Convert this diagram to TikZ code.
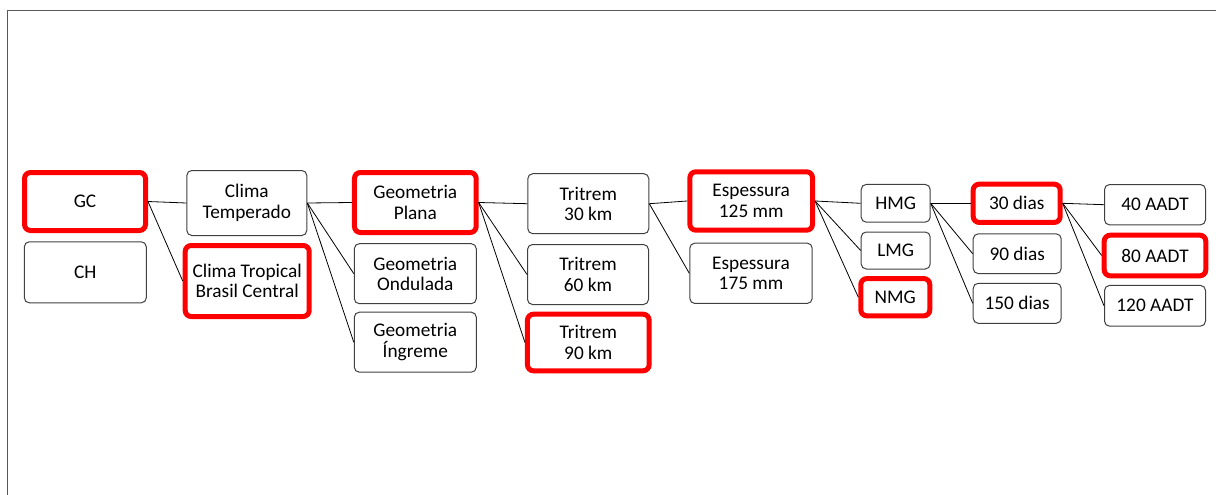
\documentclass[tikz,border=0pt]{standalone}
\usepackage{fontspec}
\setmainfont{Carlito}
\begin{document}
\begin{tikzpicture}[x=1pt,y=-1pt,
  box/.style={draw=black!75, line width=1pt, rounded corners=5pt, fill=white,
    inner sep=0pt, align=center, font=\fontsize{19.3}{20.5}\selectfont},
  sel/.style={box, draw=red, line width=5pt, rounded corners=6pt},
  link/.style={draw=black, line width=0.8pt},
  frame/.style={draw=black!65, line width=1.4pt}]
\useasboundingbox (0,0) rectangle (1216,495);
\coordinate (ftl) at (7.5,10.5);
\coordinate (ftr) at (1216,10.5);
\coordinate (fbl) at (7.5,495);
\draw[frame] (fbl) -- (ftl) -- (ftr);

% column 1
\node[sel, minimum width=121pt, minimum height=58pt] (gc) at (85,201.5) {GC};
\node[box, minimum width=122pt, minimum height=61pt] (ch) at (85.3,272.3) {CH};
% column 2
\node[box, minimum width=120pt, minimum height=65pt] (ct) at (246.8,203) {Clima\\Temperado};
\node[sel, minimum width=124pt, minimum height=71pt] (ctb) at (247.2,281) {Clima Tropical\\Brasil Central};
% column 3
\node[sel, minimum width=121.7pt, minimum height=60pt] (gp) at (415.3,202.5) {Geometria\\Plana};
\node[box, minimum width=122pt, minimum height=60pt] (go) at (415.3,273.7) {Geometria\\Ondulada};
\node[box, minimum width=122pt, minimum height=60pt] (gi) at (415.3,342.2) {Geometria\\Íngreme};
% column 4
\node[box, minimum width=121pt, minimum height=60pt] (t30) at (588.3,203.7) {Tritrem\\30 km};
\node[box, minimum width=121pt, minimum height=60pt] (t60) at (588,274.5) {Tritrem\\60 km};
\node[sel, minimum width=121.7pt, minimum height=56.6pt] (t90) at (588.3,342.5) {Tritrem\\90 km};
% column 5
\node[sel, minimum width=122.7pt, minimum height=58.4pt] (e125) at (751.2,201) {Espessura\\125 mm};
\node[box, minimum width=122.4pt, minimum height=60.3pt] (e175) at (751,273.3) {Espessura\\175 mm};
% column 6
\node[box, minimum width=69pt, minimum height=37.7pt] (hmg) at (895.7,203.3) {HMG};
\node[box, minimum width=69pt, minimum height=37pt] (lmg) at (895.7,250.5) {LMG};
\node[sel, minimum width=69pt, minimum height=37.3pt] (nmg) at (895.3,297.2) {NMG};
% column 7
\node[sel, minimum width=87pt, minimum height=38.3pt] (d30) at (1016.7,203.3) {30 dias};
\node[box, minimum width=88pt, minimum height=39.7pt] (d90) at (1017.2,253.7) {90 dias};
\node[box, minimum width=88pt, minimum height=40pt] (d150) at (1017.2,303.3) {150 dias};
% column 8
\node[box, minimum width=101pt, minimum height=40.3pt] (a40) at (1155,204.7) {40 AADT};
\node[sel, minimum width=101.6pt, minimum height=40.6pt] (a80) at (1155,255.5) {80 AADT};
\node[box, minimum width=101pt, minimum height=40.7pt] (a120) at (1155,305.8) {120 AADT};

% connectors
\draw[link] (gc.east) -- (ct.west);
\draw[link] (gc.east) -- (ctb.west);
\draw[link] (ct.east) -- (gp.west);
\draw[link] (ct.east) -- (go.west);
\draw[link] (ct.east) -- (gi.west);
\draw[link] (gp.east) -- (t30.west);
\draw[link] (gp.east) -- (t60.west);
\draw[link] (gp.east) -- (t90.west);
\draw[link] (t30.east) -- (e125.west);
\draw[link] (t30.east) -- (e175.west);
\draw[link] (e125.east) -- (hmg.west);
\draw[link] (e125.east) -- (lmg.west);
\draw[link] (e125.east) -- (nmg.west);
\draw[link] (hmg.east) -- (d30.west);
\draw[link] (hmg.east) -- (d90.west);
\draw[link] (hmg.east) -- (d150.west);
\draw[link] (d30.east) -- (a40.west);
\draw[link] (d30.east) -- (a80.west);
\draw[link] (d30.east) -- (a120.west);
\end{tikzpicture}
\end{document}
